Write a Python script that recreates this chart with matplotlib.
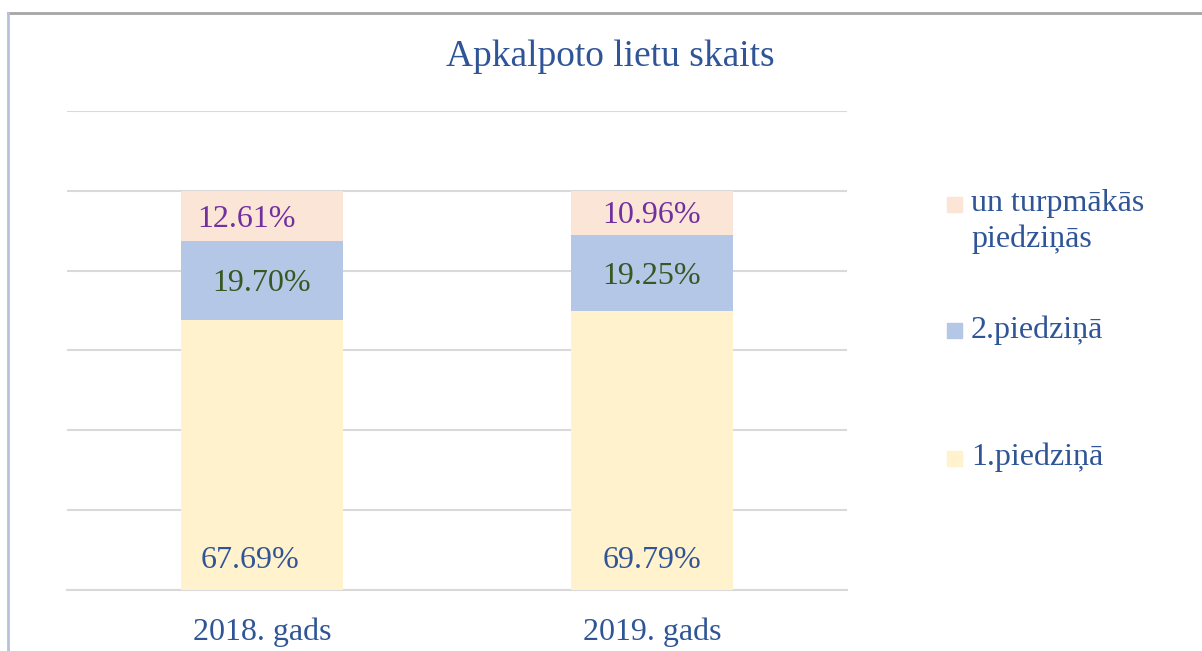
import matplotlib.pyplot as plt
from matplotlib.lines import Line2D
from matplotlib.patches import Rectangle

plt.rcParams['font.family'] = ['Liberation Serif', 'DejaVu Serif']

# data
years = ['2018. gads', '2019. gads']
series_names = ['1.piedziņā', '2.piedziņā', 'un turpmākās\npiedziņās']
first = [67.69, 69.79]
second = [19.70, 19.25]
further = [12.61, 10.96]

colors = ['#FFF2CC', '#B4C7E7', '#FBE5D6']
label_colors = ['#2F5597', '#385723', '#7030A0']
text_blue = '#2F5597'

fig = plt.figure(figsize=(12.02, 6.51), dpi=100)
ax = fig.add_axes([0.0557, 0.0937, 0.649, 0.7358])

x = list(range(len(years)))
width = 0.415
values = [first, second, further]
bottoms = [0.0] * len(years)
for i, vals in enumerate(values):
    fracs = [v / 100 for v in vals]
    ax.bar(x, fracs, width, bottom=bottoms, color=colors[i], zorder=3)
    for j, f in enumerate(fracs):
        if i == 0:
            ypos = 0.074
        else:
            ypos = bottoms[j] + f / 2 - 0.008
        dx = [[-0.03, 0.0], [0.0, 0.0], [-0.04, 0.0]][i][j]
        ax.text(x[j] + dx, ypos, f'{vals[j]:.2f}%', ha='center', va='center',
                fontsize=23, color=label_colors[i], zorder=4)
    bottoms = [b + f for b, f in zip(bottoms, fracs)]

ax.set_xlim(-0.5, 1.5)
ax.set_ylim(0, 1.2)
ax.set_yticks([0, 0.2, 0.4, 0.6, 0.8, 1.0, 1.2])
ax.yaxis.grid(True, color='#D9D9D9', linewidth=1.5, zorder=0)
ax.tick_params(axis='y', left=False, labelleft=False)
ax.set_xticks(x)
ax.set_xticklabels(years, fontsize=23, color=text_blue)
ax.tick_params(axis='x', length=0, pad=20)
for side in ['left', 'right', 'top']:
    ax.spines[side].set_visible(False)
ax.spines['bottom'].set_color('#D9D9D9')
ax.spines['bottom'].set_linewidth(1.5)

fig.text(0.508, 1 - 57 / 651, 'Apkalpoto lietu skaits', ha='center', va='center',
         fontsize=27, color=text_blue)

# legend drawn by hand, top entry first
leg_y = [458, 331, 204]
for i, name in enumerate(series_names):
    yc = 1 - leg_y[i] / 651
    fig.patches.append(Rectangle((947 / 1202, yc - 7.5 / 651), 15 / 1202, 15 / 651,
                                 transform=fig.transFigure, color=colors[i]))
    fig.text(971 / 1202, yc + 15 / 651, name, ha='left', va='top',
             fontsize=23, color=text_blue, linespacing=1.3)

# outer frame (top and left)
fig.add_artist(Line2D([8 / 1202, 1.0], [1 - 12.5 / 651, 1 - 12.5 / 651],
                      color='#A6A6A6', linewidth=2, transform=fig.transFigure))
fig.add_artist(Line2D([8 / 1202, 8 / 1202], [0, 1 - 12.5 / 651],
                      color='#B4C2DC', linewidth=2, transform=fig.transFigure))

fig.savefig('out.png', dpi=100)
